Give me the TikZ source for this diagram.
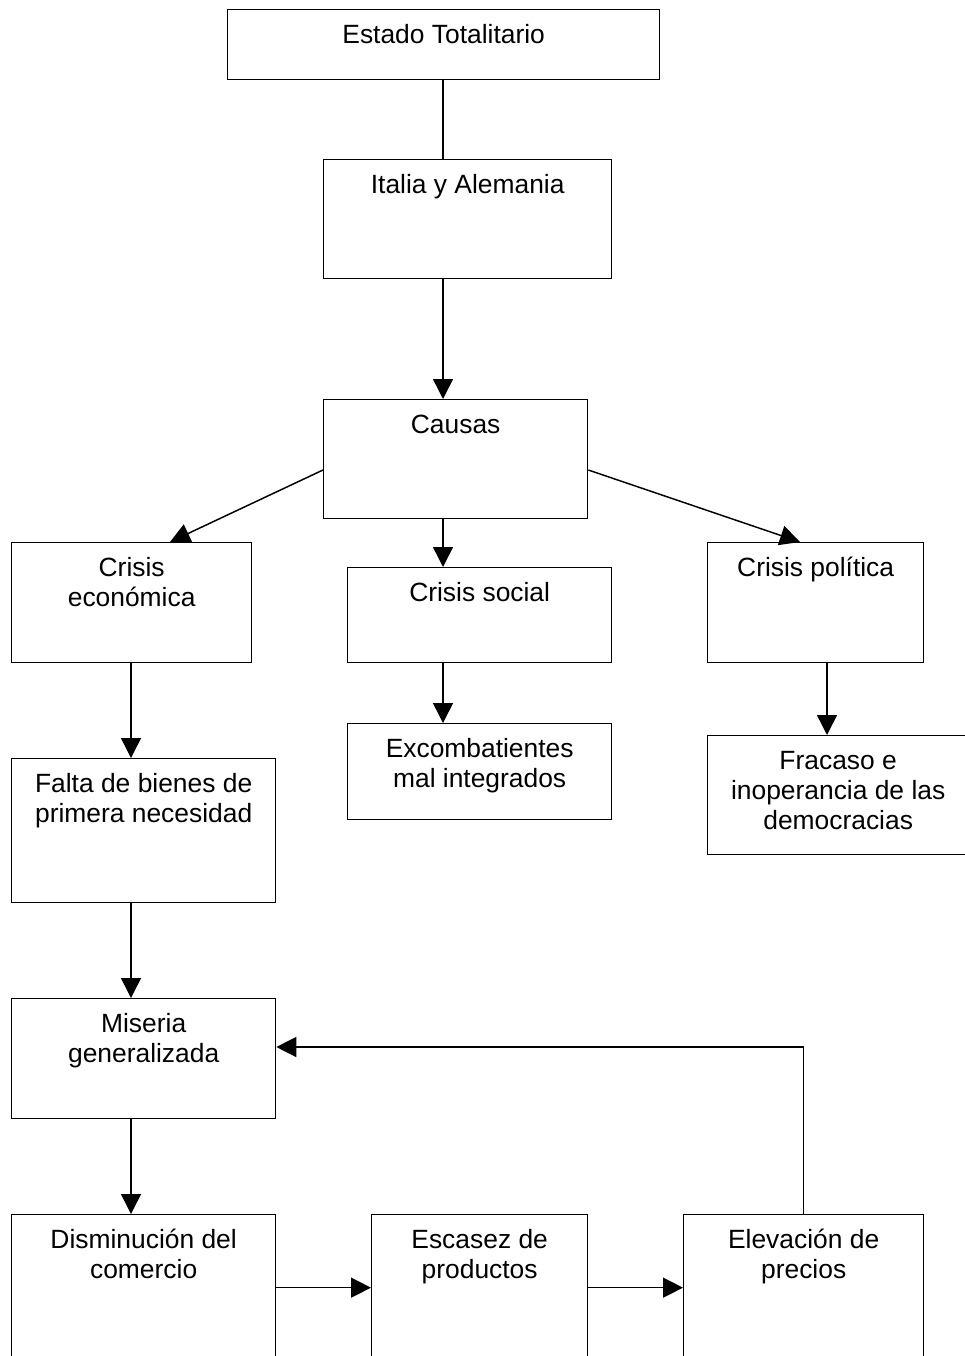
\documentclass[tikz,border=0pt]{standalone}
\usepackage{fontspec}
\setmainfont{Liberation Sans}
\usetikzlibrary{arrows.meta,calc}
\tikzset{
  boxst/.style={draw=black, line width=1pt, rectangle, inner sep=0pt, fill=white},
  lbl/.style={inner sep=0pt, align=center, font=\fontsize{19.8}{22.5}\selectfont},
  conn/.style={line width=1.1pt, draw=black},
  arr/.style={conn, -{Triangle[length=15pt,width=15pt]}}
}
\newcommand\mybox[6]{%
  \node[boxst, minimum width={(#4-#2)*0.75pt}, minimum height={(#5-#3)*0.75pt}, anchor=north west] (#1) at (#2,#3) {};
  \node[lbl, anchor=north] (#1t) at ([yshift=-10pt]#1.north) {\strut#6};
}
\begin{document}
\begin{tikzpicture}[x=0.75pt,y=-0.75pt]
\useasboundingbox (0,0) rectangle (964,1356);
\mybox{estado}{227}{9}{659}{79}{Estado Totalitario}
\mybox{italia}{323}{159}{611}{278}{Italia y Alemania}
\mybox{causas}{323}{399}{587}{518}{Causas}
\mybox{econ}{11}{542}{251}{662}{Crisis\\econ\'omica}
\mybox{social}{347}{567}{611}{662}{Crisis social}
\mybox{polit}{707}{542}{923}{662}{Crisis pol\'itica}
\mybox{excomb}{347}{723}{611}{819}{Excombatientes\\mal integrados}
\mybox{fracaso}{707}{735}{968}{854}{Fracaso e\\inoperancia de las\\democracias}
\mybox{falta}{11}{758}{275}{902}{Falta de bienes de\\primera necesidad}
\mybox{miseria}{11}{998}{275}{1118}{Miseria\\generalizada}
\mybox{dismin}{11}{1214}{275}{1360}{Disminuci\'on del\\comercio}
\mybox{escasez}{371}{1214}{587}{1360}{Escasez de\\productos}
\mybox{elev}{683}{1214}{923}{1360}{Elevaci\'on de\\precios}

\draw[conn] ($(estado.south west)+(216,0)$) -- ($(italia.north west)+(120,0)$);
\draw[arr] ($(italia.south west)+(120,0)$) -- ($(causas.north west)+(120,0)$);
\draw[arr] ($(causas.north west)+(0,71)$) -- ($(econ.north west)+(159,0)$);
\draw[arr] ($(causas.north east)+(0,71)$) -- ($(polit.north west)+(93,0)$);
\draw[arr] ($(causas.south west)+(120,0)$) -- ($(social.north west)+(96,0)$);
\draw[arr] ($(econ.south west)+(120,0)$) -- ($(falta.north west)+(120,0)$);
\draw[arr] ($(social.south west)+(96,0)$) -- ($(excomb.north west)+(96,0)$);
\draw[arr] ($(polit.south west)+(120,0)$) -- ($(fracaso.north west)+(120,0)$);
\draw[arr] ($(falta.south west)+(120,0)$) -- ($(miseria.north west)+(120,0)$);
\draw[arr] ($(miseria.south west)+(120,0)$) -- ($(dismin.north west)+(120,0)$);
\draw[arr] (dismin.east) -- (escasez.west);
\draw[arr] (escasez.east) -- (elev.west);
\draw[arr] (elev.north) |- ($(miseria.north east)+(0,49)$);
\end{tikzpicture}
\end{document}
